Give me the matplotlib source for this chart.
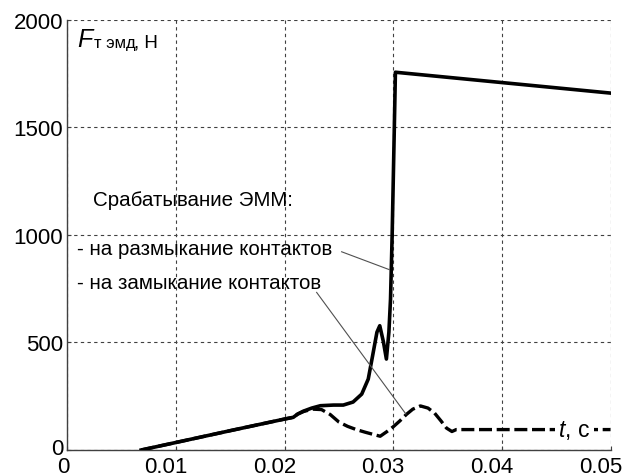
import matplotlib
matplotlib.use("Agg")
import matplotlib.pyplot as plt
from matplotlib.transforms import ScaledTranslation

plt.rcParams['font.family'] = ['Liberation Sans', 'DejaVu Sans']
plt.rcParams['mathtext.fontset'] = 'custom'
plt.rcParams['mathtext.rm'] = 'Liberation Sans'
plt.rcParams['mathtext.it'] = 'Liberation Sans:italic'

# Opening of contacts (solid)
t_open = [0.0068, 0.0100, 0.0150, 0.0200, 0.0208, 0.0212, 0.0217, 0.0225, 0.0233,
          0.0245, 0.0254, 0.0263, 0.0271, 0.0277, 0.0281, 0.0285, 0.02876, 0.0291,
          0.02937, 0.0296, 0.02975, 0.0299, 0.0301, 0.0302, 0.0500]
f_open = [0, 35, 90, 144, 152, 167, 180, 195, 206,
          209, 209, 223, 260, 330, 438, 548, 578, 502,
          423, 548, 702, 1000, 1500, 1757, 1660]

# Closing of contacts (dashed)
t_close = [0.0068, 0.0100, 0.0150, 0.0200, 0.0208, 0.0212, 0.0218, 0.0226, 0.0234,
           0.0242, 0.0250, 0.0258, 0.0266, 0.0274, 0.0282, 0.0288, 0.0294, 0.0300,
           0.0306, 0.0312, 0.0318, 0.0325, 0.0332, 0.0338, 0.0344, 0.0349, 0.0354,
           0.0358, 0.0500]
f_close = [0, 35, 90, 144, 152, 167, 180, 190, 188,
           165, 130, 110, 95, 83, 72, 64, 85, 108,
           135, 165, 190, 205, 195, 172, 135, 102, 86,
           95, 95]

xticks = [0, 0.01, 0.02, 0.03, 0.04, 0.05]
xticklabels = ['0', '0.01', '0.02', '0.03', '0.04', '0.05']
yticks = [0, 500, 1000, 1500, 2000]
yticklabels = ['0', '500', '1000', '1500', '2000']

fig = plt.figure(figsize=(6.23, 4.77), dpi=100)
ax = fig.add_axes([0.108, 0.0545, 0.872, 0.9015])

ax.plot(t_close, f_close, color='black', lw=2.4, linestyle=(0, (3.9, 1.4)), zorder=3)
ax.plot(t_open, f_open, color='black', lw=2.6, solid_joinstyle='round', zorder=4)

ax.set_xlim(0, 0.05)
ax.set_ylim(0, 2000)
ax.set_xticks(xticks)
ax.set_xticklabels(xticklabels)
ax.set_yticks(yticks)
ax.set_yticklabels(yticklabels)
ax.tick_params(axis='both', labelsize=16, direction='in', length=3, color='#404040')
ax.tick_params(axis='x', pad=4.5)
ax.tick_params(axis='y', pad=3)
for i, lbl in enumerate(ax.get_xticklabels()):
    dx = -4 if i == 0 else -10
    lbl.set_transform(lbl.get_transform() + ScaledTranslation(dx / 100, 0, fig.dpi_scale_trans))
ylbl0 = ax.get_yticklabels()[0]
ylbl0.set_transform(ylbl0.get_transform() + ScaledTranslation(0, 4 / 100, fig.dpi_scale_trans))

ax.grid(True, color='#404040', lw=0.8, linestyle=(0, (3, 3)))
for s in ['top', 'right']:
    ax.spines[s].set_visible(False)
for s in ['left', 'bottom']:
    ax.spines[s].set_color('#404040')
    ax.spines[s].set_linewidth(1.0)

# Axis label in the corner: F (italic), subscript, units
ax.text(0.00087, 1879, 'F', fontsize=18, style='italic', va='baseline', ha='left')
ax.text(0.00250, 1873, 'т эмд', fontsize=12, va='baseline', ha='left')
ax.text(0.00610, 1879, ', Н', fontsize=13.5, va='baseline', ha='left')

ax.text(0.00235, 1167, 'Срабатывание ЭММ:', fontsize=14.8, va='center', ha='left')
ax.text(0.0009, 935, '- на размыкание контактов', fontsize=14.8, va='center', ha='left')
ax.text(0.0009, 781, '- на замыкание контактов', fontsize=14.8, va='center', ha='left')

ax.plot([0.02525, 0.02963], [922, 839], color='#505050', lw=0.8, zorder=5)
ax.plot([0.02295, 0.03117], [733, 167], color='#505050', lw=0.8, zorder=5)

ax.text(0.0452, 95, r'$\mathit{t}$, с', fontsize=16.5, va='center', ha='left',
        bbox=dict(facecolor='white', edgecolor='none', pad=2.5), zorder=6)

fig.savefig('out.png', dpi=100)
